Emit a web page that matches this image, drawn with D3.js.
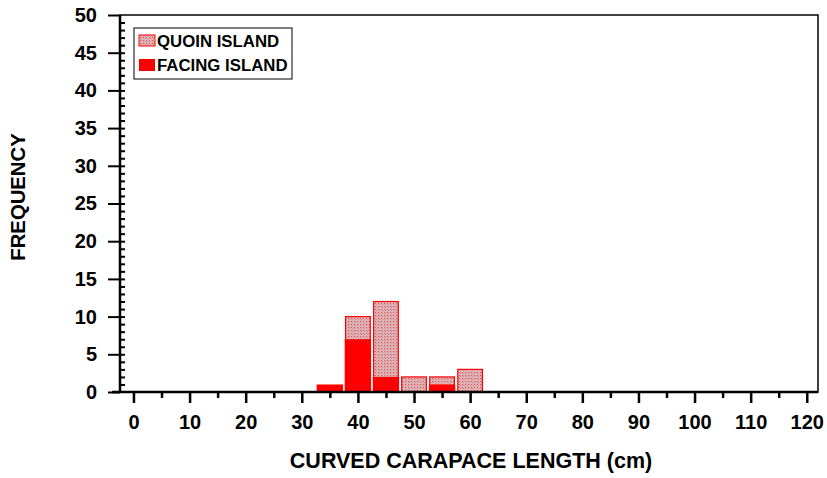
<!DOCTYPE html>
<html>
<head>
<meta charset="utf-8">
<script src="https://cdn.jsdelivr.net/npm/d3@7"></script>
<style>
body { margin: 0; background: #fff; }
text { font-family: "Liberation Sans", Arial, sans-serif; font-weight: bold; fill: #000; }
</style>
</head>
<body>
<svg id="chart" width="827" height="478"></svg>
<script>
// bin centres (cm) and frequencies
var bins = [35, 40, 45, 50, 55, 60];
var quoin = [0, 10, 12, 2, 2, 3];
var facing = [1, 7, 2, 0, 1, 0];
var xTicks = [0, 10, 20, 30, 40, 50, 60, 70, 80, 90, 100, 110, 120];
var yTicks = [0, 5, 10, 15, 20, 25, 30, 35, 40, 45, 50];
var seriesNames = ["QUOIN ISLAND", "FACING ISLAND"];

var svg = d3.select("#chart");
var margin = {left: 120, top: 15, right: 9, bottom: 86};
var width = 827 - margin.left - margin.right;
var height = 478 - margin.top - margin.bottom;

var defs = svg.append("defs");
var pat = defs.append("pattern")
    .attr("id", "stipple")
    .attr("patternUnits", "userSpaceOnUse")
    .attr("width", 3).attr("height", 3);
pat.append("rect").attr("width", 3).attr("height", 3).attr("fill", "#d9b3b5");
pat.append("rect").attr("width", 1).attr("height", 1).attr("fill", "#f04a50");
pat.append("rect").attr("x", 1).attr("y", 1).attr("width", 1).attr("height", 1).attr("fill", "#e88890");

var g = svg.append("g").attr("transform", `translate(${margin.left},${margin.top})`);

var x = d3.scaleLinear().domain([-2.4, 122]).range([0, width]);
var y = d3.scaleLinear().domain([0, 50]).range([height, 0]);

// quoin bars (behind)
g.selectAll(".quoin")
    .data(bins.map((b, i) => ({b, v: quoin[i]})).filter(d => d.v > 0))
    .enter().append("rect")
    .attr("class", "quoin")
    .attr("x", d => x(d.b - 2.2))
    .attr("width", d => x(d.b + 2.2) - x(d.b - 2.2))
    .attr("y", d => y(d.v))
    .attr("height", d => y(0) - y(d.v))
    .attr("fill", "url(#stipple)")
    .attr("stroke", "#ff0000")
    .attr("stroke-width", 1.2);

// facing bars (front)
g.selectAll(".facing")
    .data(bins.map((b, i) => ({b, v: facing[i]})).filter(d => d.v > 0))
    .enter().append("rect")
    .attr("class", "facing")
    .attr("x", d => x(d.b - 2.35))
    .attr("width", d => x(d.b + 2.35) - x(d.b - 2.35))
    .attr("y", d => y(d.v))
    .attr("height", d => y(0) - y(d.v))
    .attr("fill", "#ff0000");

// frame
g.append("rect")
    .attr("width", width).attr("height", height)
    .attr("fill", "none").attr("stroke", "#000").attr("stroke-width", 1.5);

// x axis
var xAxis = g.append("g").attr("transform", `translate(0,${height})`);
xAxis.call(d3.axisBottom(x).tickValues(d3.range(5, 120, 10)).tickSize(6).tickFormat(""))
    .call(a => a.select(".domain").remove());
xAxis.append("g").call(d3.axisBottom(x).tickValues(xTicks).tickSize(11).tickPadding(12))
    .call(a => a.select(".domain").remove())
    .call(a => a.selectAll("text").style("font-size", "20px").attr("fill", "#000"));
xAxis.selectAll("line").attr("stroke-width", 2.5);

// y axis: minor ticks inside, major outside
var yAxis = g.append("g");
yAxis.call(d3.axisRight(y).tickValues(d3.range(1, 50, 1)).tickSize(5).tickFormat(""))
    .call(a => a.select(".domain").remove());
yAxis.append("g").call(d3.axisLeft(y).tickValues(yTicks).tickSize(12).tickPadding(11))
    .call(a => a.select(".domain").remove())
    .call(a => a.selectAll("text").style("font-size", "20px").attr("fill", "#000"));
yAxis.selectAll("line").attr("stroke-width", 2);
g.append("line").attr("x1", 0).attr("x2", 0).attr("y1", 0).attr("y2", height)
    .attr("stroke", "#000").attr("stroke-width", 2.5);
g.append("line").attr("x1", -8).attr("x2", width).attr("y1", height).attr("y2", height)
    .attr("stroke", "#000").attr("stroke-width", 2.5);

// titles
svg.append("text")
    .attr("x", 471).attr("y", 468)
    .attr("text-anchor", "middle").style("font-size", "21.5px")
    .text("CURVED CARAPACE LENGTH (cm)");
svg.append("text")
    .attr("transform", "translate(25,197) rotate(-90)")
    .attr("text-anchor", "middle").style("font-size", "20.3px")
    .text("FREQUENCY");

// legend
var leg = svg.append("g").attr("transform", "translate(134,28)");
leg.append("rect").attr("width", 158).attr("height", 51)
    .attr("fill", "#fff").attr("stroke", "#000").attr("stroke-width", 1);
leg.append("rect").attr("x", 5).attr("y", 7).attr("width", 16).attr("height", 11)
    .attr("fill", "url(#stipple)").attr("stroke", "#ff0000");
leg.append("rect").attr("x", 5).attr("y", 31).attr("width", 16).attr("height", 12)
    .attr("fill", "#ff0000");
leg.selectAll(".lt").data(seriesNames).enter().append("text")
    .attr("x", 23).attr("y", (d, i) => 19 + i * 24)
    .style("font-size", "16.8px").text(d => d);
</script>
</body>
</html>
